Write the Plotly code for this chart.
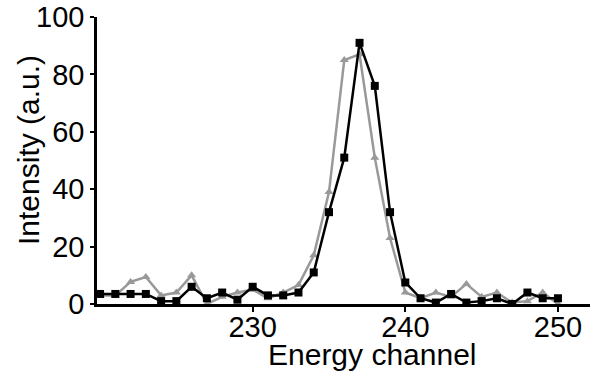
import plotly.graph_objects as go

channels = list(range(220, 251))
black_vals = [3.5, 3.5, 3.5, 3.5, 1, 1, 6, 2, 4, 1.5, 6, 3, 3, 4, 11, 32, 51, 91, 76, 32,
              7.5, 2, 0.5, 3.5, 0.5, 1, 2, 0, 4, 2, 2]
grey_vals = [3, 3, 7.7, 9.4, 3, 4, 10, 0, 2.5, 4, 5, 2, 4, 6.6, 17, 39, 85, 87, 51, 23,
             4, 2, 4, 2.5, 7, 2.5, 4, 0.5, 1, 4, 0]
x_ticks = [230, 240, 250]
y_ticks = [0, 20, 40, 60, 80, 100]
x_title = "Energy channel"
y_title = "Intensity (a.u.)"

FONT = "Liberation Sans, Arial, sans-serif"

fig = go.Figure()
fig.add_trace(go.Scatter(x=channels, y=grey_vals, mode="lines+markers",
                         line=dict(color="#999999", width=2.5),
                         marker=dict(symbol="triangle-up", size=8, color="#999999"),
                         showlegend=False))
fig.add_trace(go.Scatter(x=channels, y=black_vals, mode="lines+markers",
                         line=dict(color="#000000", width=2.5),
                         marker=dict(symbol="square", size=8, color="#000000"),
                         showlegend=False))

fig.update_layout(
    width=591, height=372,
    margin=dict(l=97, r=1, t=17, b=68),
    paper_bgcolor="white", plot_bgcolor="white",
    font=dict(family=FONT, size=28, color="black"),
    xaxis=dict(range=[219.8, 252.1], tickvals=x_ticks, showgrid=False, zeroline=False,
               showline=True, linecolor="black", linewidth=2.5, automargin=False,
               ticks="outside", ticklen=5, tickwidth=1.5, tickcolor="black",
               ticklabelstandoff=-10, tickfont=dict(size=29)),
    yaxis=dict(range=[0, 100], tickvals=y_ticks, showgrid=False, zeroline=False,
               showline=True, linecolor="black", linewidth=2.5, automargin=False,
               ticks="outside", ticklen=4, tickwidth=1.5, tickcolor="black",
               tickfont=dict(size=29)),
    annotations=[
        dict(text=x_title, xref="paper", yref="paper", x=(372 - 97) / 493, y=-(354 - 304) / 287,
             xanchor="center", yanchor="middle", showarrow=False, font=dict(size=30)),
        dict(text=y_title, xref="paper", yref="paper", x=-(97 - 28) / 493, y=(304 - 150) / 287,
             xanchor="center", yanchor="middle", textangle=-90, showarrow=False,
             font=dict(size=30)),
    ],
)

fig.write_html("out.html", config={"displayModeBar": False},
               post_script="document.body.style.margin='0px';")
